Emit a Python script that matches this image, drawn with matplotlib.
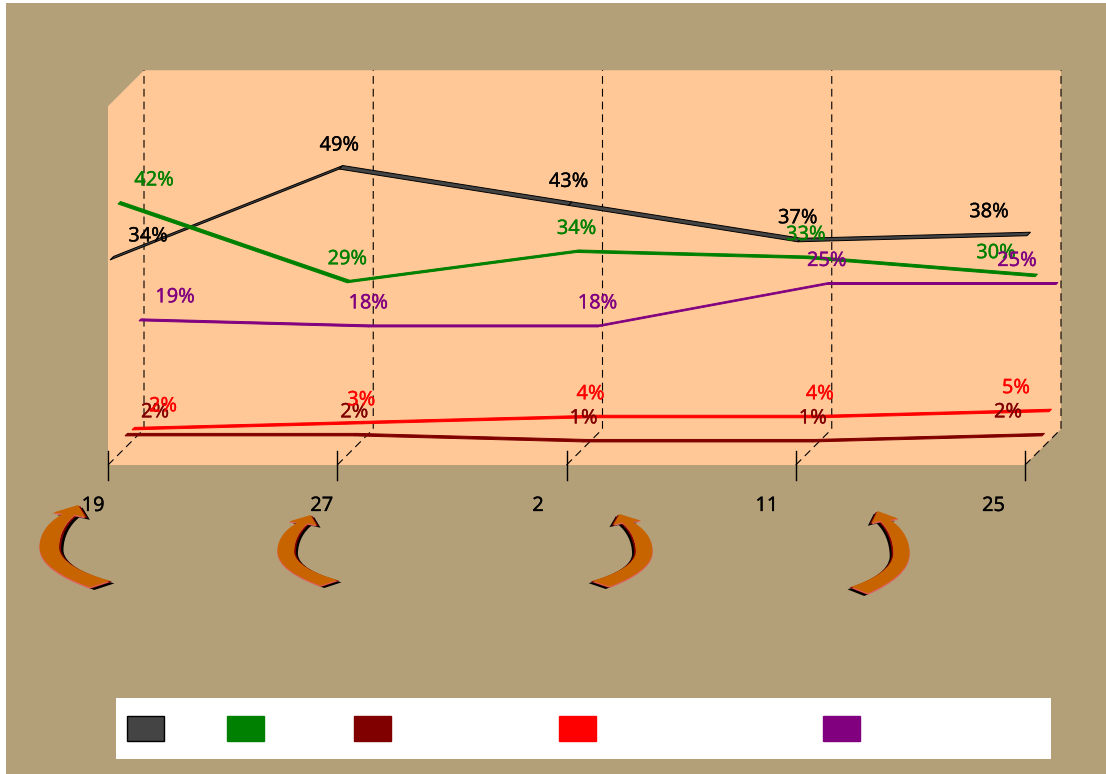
import matplotlib
matplotlib.use('Agg')
import matplotlib.pyplot as plt
import matplotlib.patheffects as pe
import numpy as np
from matplotlib.patches import PathPatch, Polygon, Rectangle
from matplotlib.path import Path
from matplotlib.transforms import Affine2D, IdentityTransform

plt.rcParams['font.family'] = ['Noto Sans', 'DejaVu Sans']

W, H = 1106, 774

categories = ['19', '27', '2', '11', '25']
black_vals = [34, 49, 43, 37, 38]
green_vals = [42, 29, 34, 33, 30]
darkred_vals = [2, 2, 1, 1, 2]
red_vals = [2, 3, 4, 4, 5]
purple_vals = [19, 18, 18, 25, 25]

# values, colour, edge colour, depth offset x/y in pixels, first/last label shift, ribbon width
series = [
    (black_vals, '#444444', 'black', 2, -1, 38, -38, 'black', 3.5),
    (green_vals, 'green', 'green', 10, 6.5, 36, -39, 'green', 2.5),
    (darkred_vals, 'maroon', 'maroon', 17, 17, 30, -34, 'maroon', 2.5),
    (red_vals, 'red', 'red', 24, 23, 31, -33, 'red', 2.5),
    (purple_vals, 'purple', 'purple', 31, 29, 36, -39, 'purple', 2),
]

fig = plt.figure(figsize=(W / 100, H / 100), dpi=100, facecolor='white')
ax = fig.add_axes([0, 0, 1, 1])
step = 229.25
unit = 6.06
ax.set_xlim(-108 / step, (W - 108) / step)
ax.set_ylim(-(H - 465) / unit, 465 / unit)
ax.axis('off')

display = IdentityTransform()
# pixel coordinates with the origin at the top left
top_left = Affine2D().scale(1, -1).translate(0, H)


def pos(i, v, dx=0, dy=None):
    x, y = ax.transData.transform((i, v))
    return x + dx, y + (dx if dy is None else dy)


def add_rect(x0, y0, x1, y1, **kw):
    ax.add_patch(Rectangle((x0, y0), x1 - x0, y1 - y0, transform=top_left, clip_on=False, **kw))


def add_text(x, y, s, color):
    t = ax.text(x, y, s, color=color, fontsize=14.4, ha='center', va='center',
                transform=display, zorder=5)
    t.set_path_effects([pe.withStroke(linewidth=0.2, foreground=color)])


add_rect(6, 3, W, H, facecolor='#B39F78', edgecolor='none', zorder=0)

# chart wall with its cut corners
depth = 36
last = len(categories) - 1
wall_top = 59.2
wall = [pos(0, 0), pos(0, wall_top), pos(0, wall_top, depth), pos(last, wall_top, depth),
        pos(last, 0, depth), pos(last, 0)]
ax.add_patch(Polygon(wall, closed=True, facecolor='#FFC896', edgecolor='none',
                     transform=display, zorder=1))

# dashed grid lines and ticks
for i in range(len(categories)):
    pts = np.array([pos(i, 0), pos(i, 0, depth), pos(i, wall_top, depth)])
    ax.plot(pts[:, 0], pts[:, 1], color='black', lw=0.8, ls=(0, (7, 4.5)),
            transform=display, zorder=2, clip_on=False)
    x, y = pos(i, 0)
    ax.plot([x, x], [y + 14, y - 15], color='black', lw=1, transform=display, zorder=2)

# each series is a thin ribbon running into the depth of the chart
for vals, face, edge, dx, dy, first, final, text_color, ribbon in series:
    front = np.array([pos(i, v, dx, dy) for i, v in enumerate(vals)])
    for a, b in zip(front[:-1], front[1:]):
        quad = [a, b, b + ribbon, a + ribbon]
        ax.add_patch(Polygon(quad, closed=True, facecolor=face, edgecolor=edge, lw=0.7,
                             transform=display, zorder=3, joinstyle='miter'))

label_lift = 23.5
for vals, face, edge, dx, dy, first, final, text_color, ribbon in series:
    shifts = [first, 0, 0, 0, final]
    for i, v in enumerate(vals):
        x, y = pos(i, v, dx, dy)
        add_text(x + shifts[i], y + label_lift, f'{v}%', text_color)

# curved arrows under the axis
arrow_verts = np.array([
    (210, 445), (130, 415), (58, 375), (60, 320), (60, 275), (95, 240), (130, 222),
    (100, 218), (175, 195), (197, 232), (165, 225), (140, 245), (118, 280), (118, 325),
    (120, 365), (180, 400), (270, 425), (210, 445)], dtype=float)
arrow_codes = [Path.MOVETO, Path.CURVE4, Path.CURVE4, Path.CURVE4, Path.CURVE4, Path.CURVE4, Path.CURVE4,
               Path.LINETO, Path.LINETO, Path.LINETO, Path.LINETO, Path.CURVE4, Path.CURVE4, Path.CURVE4,
               Path.CURVE4, Path.CURVE4, Path.CURVE4, Path.CLOSEPOLY]
arrow_layers = [((13, 8), 'black'), ((6, 3), 'maroon'), ((-1, 4), '#E06060'), ((0, 0), '#C86400')]
# x, y, width, height, mirrored
arrows = [(39, 505, 76, 85, False), (277, 515, 65, 73, False),
          (588, 514, 65, 75, True), (847, 511, 63, 85, True)]
for ax_x, ax_y, aw, ah, mirror in arrows:
    sx, sy = aw / 227, ah / 258
    for (ox, oy), color in arrow_layers:
        v = (arrow_verts + (ox, oy) - (58, 195)) * (sx, sy)
        if mirror:
            v[:, 0] = aw - v[:, 0]
        v = v + (ax_x, ax_y)
        ax.add_patch(PathPatch(Path(v, arrow_codes), facecolor=color, edgecolor='none',
                               transform=top_left, zorder=4))

label_shift = [-15, -15.5, -28.5, -29, -31.5]
for i, name in enumerate(categories):
    x, y = pos(i, 0)
    add_text(x + label_shift[i], y - 41, name, 'black')

# legend box, the series have no names
add_rect(116, 698, 1051, 759, facecolor='white', edgecolor='none', zorder=1)
swatches = [127, 227, 354, 559, 823]
for left, (vals, face, edge, *_) in zip(swatches, series):
    add_rect(left, 716, left + 37, 741, facecolor=face, edgecolor=edge, lw=1, zorder=2)

fig.savefig('out.png', dpi=100)
